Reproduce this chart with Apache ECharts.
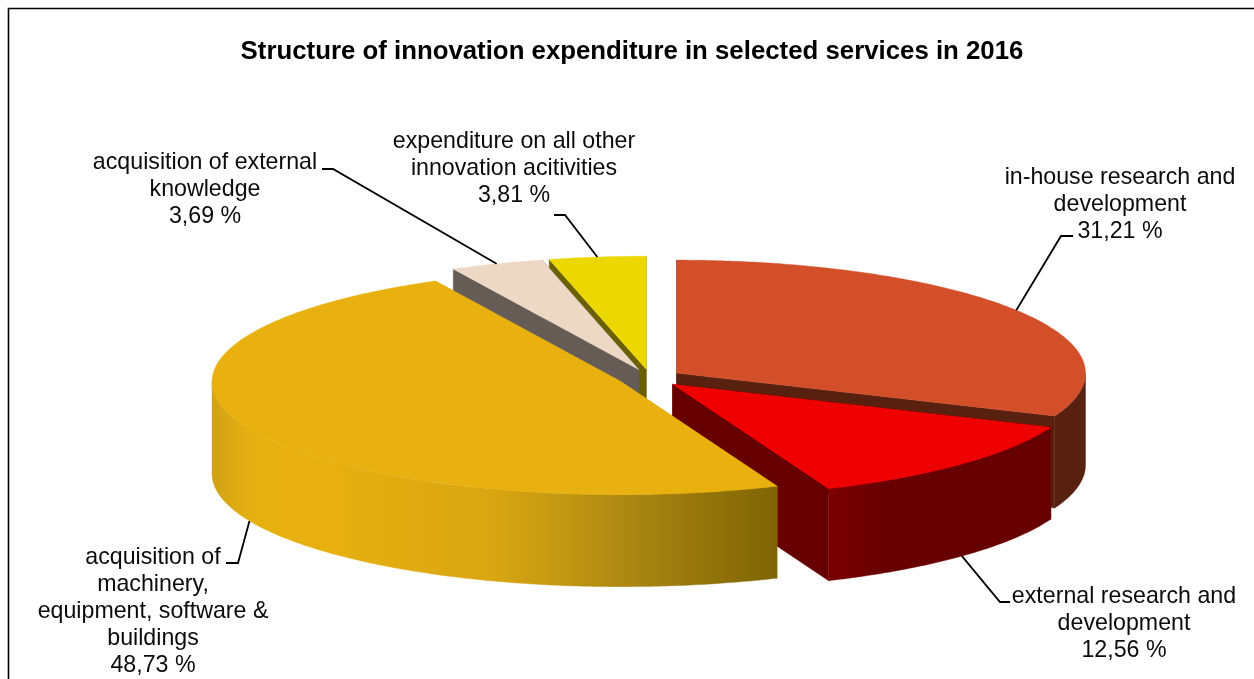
<!DOCTYPE html>
<html>
<head>
<meta charset="utf-8">
<style>html,body{margin:0;padding:0;background:#fff}#c{width:1254px;height:679px}</style>
<script src="https://cdn.jsdelivr.net/npm/echarts@6/dist/echarts.min.js"></script>
</head>
<body>
<div id="c"></div>
<script>
// ---- data, clockwise from the top of the pie ----
const categories = [
  'in-house research and\ndevelopment',
  'external research and\ndevelopment',
  'acquisition of\nmachinery,\nequipment, software &\nbuildings',
  'acquisition of external\nknowledge',
  'expenditure on all other\ninnovation acitivities'
];
const values = [31.21, 12.56, 48.73, 3.69, 3.81];
const valueLabels = ['31,21 %', '12,56 %', '48,73 %', '3,69 %', '3,81 %'];
const chartTitle = 'Structure of innovation expenditure in selected services in 2016';

// ---- styling and layout ----
const topColors = ['#d24f2a', '#ee0000', '#e9b10f', '#edd8c5', '#ecd800'];
const faceColors = ['#58200f', '#660000', '#d8a512', '#655c55', '#6b6000'];
const paintOrder = [0, 1, 4, 3, 2];
const pie = {cx: 650, cy: 378, rx: 409, ry: 113, depth: 92, explode: 0.078};
// text centre x, text top y, leader line end and elbow; the line's other end follows the slice
const labelLayout = [
  {x: 1120, y: 164, end: [1073, 236], elbow: [1061, 236], rim: 0},
  {x: 1124, y: 583, end: [1010, 602], elbow: [1000, 602], rim: 1},
  {x: 153, y: 544, end: [226, 563], elbow: [238, 563], rim: 1},
  {x: 205, y: 149, end: [322, 169], elbow: [333, 169], rim: 0},
  {x: 514, y: 128, end: [554, 215], elbow: [565, 215], rim: 0}
];
const FONT = '"Liberation Sans", Arial, sans-serif';

const total = values.reduce((a, b) => a + b, 0);
const starts = [];
values.reduce((acc, v, i) => { starts[i] = acc; return acc + v; }, 0);
const rad = v => v / total * 2 * Math.PI;

function apex(i) {
  const mid = rad(starts[i] + values[i] / 2);
  return [pie.cx + pie.explode * pie.rx * Math.sin(mid), pie.cy - pie.explode * pie.ry * Math.cos(mid)];
}
function rimPoint(a, t, drop) {
  return [a[0] + pie.rx * Math.sin(t), a[1] - pie.ry * Math.cos(t) + (drop || 0)];
}
function arc(a, t0, t1, drop) {
  const n = Math.max(2, Math.ceil(Math.abs(t1 - t0) / 0.01));
  const pts = [];
  for (let k = 0; k <= n; k++) pts.push(rimPoint(a, t0 + (t1 - t0) * k / n, drop));
  return pts;
}
function poly(points, fill) {
  return {type: 'polygon', shape: {points}, style: {fill, stroke: fill, lineWidth: 0.4}, silent: true};
}
function gradientX(x0, x1, stops) {
  return {type: 'linear', x: x0, y: 0, x2: x1, y2: 0, global: true,
    colorStops: stops.map(s => ({offset: s[0], color: s[1]}))};
}

function renderSlice(params, api) {
  const i = api.value(1);
  const t0 = rad(starts[i]), t1 = rad(starts[i] + values[i]);
  const a = apex(i), d = pie.depth;
  const kids = [];
  const aLow = [a[0], a[1] + d];
  const wall = p => [a, p, [p[0], p[1] + d], aLow];
  // straight cut faces
  kids.push(poly(wall(rimPoint(a, t1)), faceColors[i]));
  kids.push(poly(wall(rimPoint(a, t0)), faceColors[i]));
  // outer wall, only where it faces the viewer
  const f0 = Math.max(t0, Math.PI / 2), f1 = Math.min(t1, 3 * Math.PI / 2);
  if (f1 > f0) {
    const pts = arc(a, f0, f1, 0).concat(arc(a, f1, f0, d));
    let fill = faceColors[i];
    if (i === 2) {
      fill = gradientX(a[0] - pie.rx, a[0] + pie.rx * Math.sin(t0), [
        [0, '#d0a216'], [0.07, '#e6b010'], [0.2, '#e8b00f'], [0.5, '#d8a612'], [0.75, '#a98612'], [1, '#7e6404']
      ]);
    } else if (i === 1) {
      fill = gradientX(rimPoint(a, t1)[0], rimPoint(a, t0)[0], [[0, '#7c0000'], [0.25, '#680000'], [1, '#660000']]);
    }
    kids.push(poly(pts, fill));
  }
  // top face
  kids.push(poly([a].concat(arc(a, t0, t1, 0)), topColors[i]));
  return {type: 'group', children: kids};
}

function renderLabel(params, api) {
  const i = api.value(1);
  const L = labelLayout[i];
  const a = apex(i);
  const mid = rad(starts[i] + values[i] / 2);
  const anchor = rimPoint(a, mid, L.rim ? pie.depth : 0);
  return {type: 'group', silent: true, children: [
    {type: 'polyline', shape: {points: [L.end, L.elbow, anchor]},
     style: {stroke: '#000', lineWidth: 1.8, fill: 'none'}},
    {type: 'text', style: {x: L.x, y: L.y, text: categories[i] + '\n' + valueLabels[i],
      fontFamily: FONT, fontSize: 23.2, lineHeight: 27, fill: '#0b0b0b', align: 'center', verticalAlign: 'top'}}
  ]};
}

const chart = echarts.init(document.getElementById('c'), null, {renderer: 'canvas'});
chart.setOption({
  animation: false,
  backgroundColor: '#ffffff',
  title: {
    text: chartTitle, left: 627, top: 34, textAlign: 'center',
    textStyle: {fontFamily: FONT, fontWeight: 'bold', fontSize: 25.8, color: '#000'}
  },
  tooltip: {show: false},
  graphic: [{type: 'polyline', silent: true, z: -1,
    shape: {points: [[8.5, 679], [8.5, 8.5], [1254, 8.5]]},
    style: {stroke: '#000', lineWidth: 1.6, fill: 'none'}}],
  series: [
    {type: 'custom', coordinateSystem: 'none', renderItem: renderSlice, z: 2,
     data: paintOrder.map(i => [values[i], i])},
    {type: 'custom', coordinateSystem: 'none', renderItem: renderLabel, z: 3,
     data: values.map((v, i) => [v, i])}
  ]
});
</script>
</body>
</html>
